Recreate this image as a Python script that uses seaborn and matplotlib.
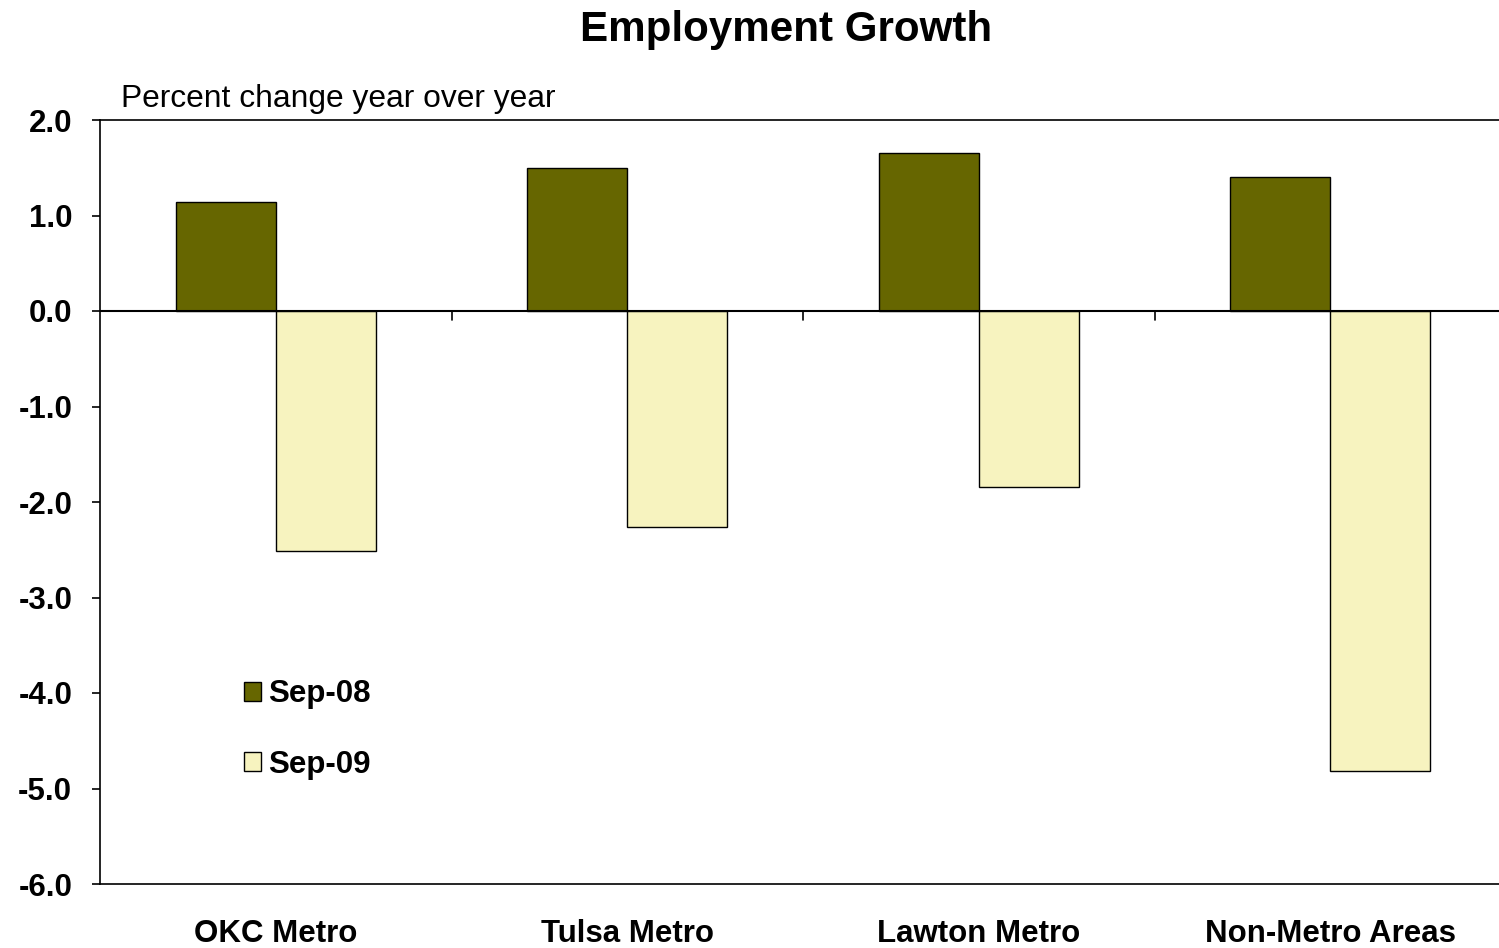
import matplotlib
matplotlib.use("Agg")
import matplotlib.pyplot as plt
import seaborn as sns
import pandas as pd

# Data
areas = ["OKC Metro", "Tulsa Metro", "Lawton Metro", "Non-Metro Areas"]
periods = ["Sep-08", "Sep-09"]
sep08 = [1.14, 1.50, 1.65, 1.40]
sep09 = [-2.51, -2.26, -1.84, -4.82]
colors = ["#666600", "#F7F3BF"]

df = pd.DataFrame({
    "area": areas * 2,
    "period": [periods[0]] * len(areas) + [periods[1]] * len(areas),
    "value": sep08 + sep09,
})

sns.set_style("white")
plt.rcParams["font.family"] = ["Liberation Sans", "DejaVu Sans"]
plt.rcParams["axes.unicode_minus"] = False
plt.rcParams["text.color"] = "black"
plt.rcParams["xtick.color"] = "black"
plt.rcParams["ytick.color"] = "black"

fig = plt.figure(figsize=(14.99, 9.48), dpi=100)
ax = fig.add_axes([100 / 1499, 64 / 948, 1406 / 1499, 764 / 948])

sns.barplot(data=df, x="area", y="value", hue="period", palette=colors,
            width=0.57, edgecolor="black", linewidth=1.0, errorbar=None,
            saturation=1, ax=ax)

ax.set_xlim(-0.5, len(areas) - 0.5)
ax.set_ylim(-6, 2)
ax.set_yticks(range(-6, 3))
ax.set_yticklabels([f"{v:.1f}" for v in range(-6, 3)])
ax.set_xlabel("")
ax.set_ylabel("")

for s in ["left", "top", "bottom"]:
    ax.spines[s].set_visible(True)
    ax.spines[s].set_color("black")
    ax.spines[s].set_linewidth(1.2)
ax.spines["right"].set_visible(False)

ax.tick_params(axis="y", direction="out", length=6, width=1.2, pad=14,
               labelsize=22.5, left=True, colors="black")
ax.tick_params(axis="x", length=0, pad=25, labelsize=22.5, colors="black")
for lab in ax.get_xticklabels() + ax.get_yticklabels():
    lab.set_fontweight("bold")

# zero line with small separator ticks between categories
ax.axhline(0, color="black", linewidth=1.5, zorder=3)
for i in range(len(areas) - 1):
    ax.plot([i + 0.5, i + 0.5], [0, -0.09], color="black", linewidth=1.2, zorder=3)

handles, labels = ax.get_legend_handles_labels()
ax.legend(handles, labels, loc="upper left", bbox_to_anchor=(0.1025, 0.268),
          frameon=False, borderpad=0, borderaxespad=0, handlelength=0.55,
          handleheight=0.55, handletextpad=0.22, labelspacing=1.3,
          prop={"size": 22.5, "weight": "bold"})

fig.text(786 / 1499, 1 - 30 / 948, "Employment Growth", ha="center", va="center",
         fontsize=30.3, fontweight="bold")
fig.text(121 / 1499, 1 - 99 / 948, "Percent change year over year", ha="left",
         va="center", fontsize=22.9)

fig.savefig("out.png", dpi=100, facecolor="white")
